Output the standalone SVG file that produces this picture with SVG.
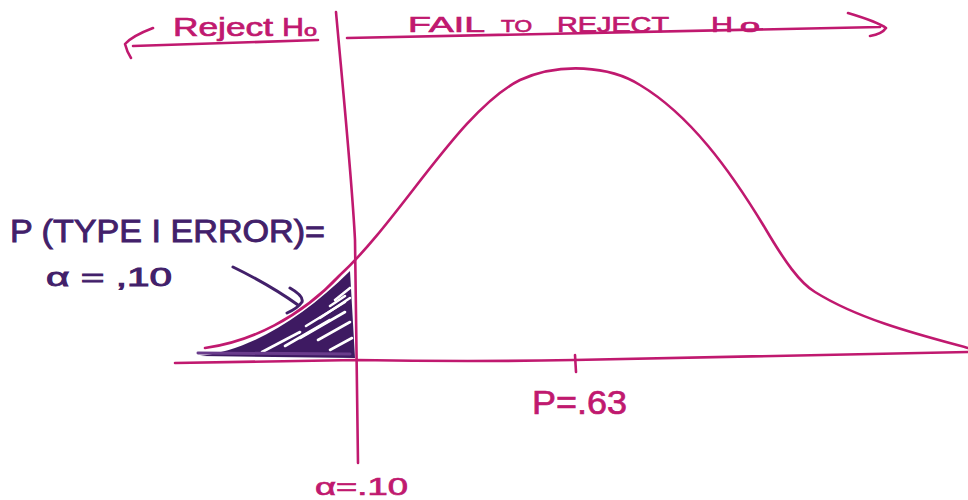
<svg xmlns="http://www.w3.org/2000/svg" width="968" height="500" viewBox="0 0 968 500">
  <defs>
    <style>
      .mag { fill: none; stroke: #c0196f; stroke-width: 2.6; stroke-linecap: round; stroke-linejoin: round; }
      .magt { fill: #c0196f; stroke: #c0196f; stroke-width: 0.7; font-family: "Liberation Sans", "DejaVu Sans", sans-serif; }
      .pur { fill: none; stroke: #42206a; stroke-width: 3; stroke-linecap: round; stroke-linejoin: round; }
      .purt { fill: #42206a; stroke: #42206a; stroke-width: 0.9; font-family: "Liberation Sans", "DejaVu Sans", sans-serif; }
      .hatch { stroke: #ffffff; stroke-width: 2.6; stroke-linecap: round; }
    </style>
    <clipPath id="shadeClip">
      <path d="M200,356 C250,350 300,320 350,271 L355,358 Z"/>
    </clipPath>
  </defs>
  <rect width="968" height="500" fill="#ffffff"/>

  <!-- shaded rejection area -->
  <g id="shaded-area">
    <path d="M200,356 C250,350 300,320 350,271 L355,358 Z" fill="#3e1a62"/>
    <g clip-path="url(#shadeClip)">
      <line class="hatch" x1="262" y1="352" x2="300" y2="332"/>
      <line class="hatch" x1="285" y1="346" x2="330" y2="320"/>
      <line class="hatch" x1="300" y1="338" x2="345" y2="312"/>
      <line class="hatch" x1="318" y1="340" x2="350" y2="322"/>
      <line class="hatch" x1="306" y1="326" x2="345" y2="302"/>
      <line class="hatch" x1="320" y1="318" x2="350" y2="298"/>
      <line class="hatch" x1="330" y1="350" x2="352" y2="338"/>
      <line class="hatch" x1="335" y1="300" x2="350" y2="288"/>
      <line class="hatch" x1="330" y1="306" x2="345" y2="296"/>
    </g>
    <path d="M198,353 L350,354" stroke="#6a3c8c" stroke-width="3" fill="none" stroke-linecap="round"/>
  </g>

  <!-- axes and curve -->
  <g id="connectors">
    <path id="curve" class="mag" d="M205,348 C250,342 300,318 340,275 C400,220 460,110 520,80 C560,62 610,66 640,85 C690,115 730,170 765,228 C785,262 800,283 815,292 C860,320 920,335 968,348"/>
    <path id="axis" class="mag" d="M175,363 L357,360 Q470,362 574,360 T968,352"/>
    <path id="tick" class="mag" stroke-width="3.2" d="M575,355 L576,372"/>
    <path id="critical-line" class="mag" d="M336,12 C343,90 352,180 355,240 L358,463"/>
    <path id="reject-arrow" class="mag" d="M318,40 L133,46 M153,28 Q132,36 125,44 Q127,52 131,58"/>
    <path id="fail-arrow" class="mag" d="M347,38 L880,27 M848,13 Q878,22 886,28 Q882,34 870,36"/>
    <path id="pointer" class="pur" d="M233,267 Q270,285 298,305 M290,288 Q304,296 302,302 Q298,308 287,313"/>
  </g>

  <g id="label-reject">
    <text class="magt" y="36" font-size="26"><tspan x="173" textLength="100" lengthAdjust="spacingAndGlyphs">Reject</tspan><tspan x="282" textLength="22" lengthAdjust="spacingAndGlyphs">H</tspan><tspan font-size="16" textLength="13" lengthAdjust="spacingAndGlyphs">o</tspan></text>
  </g>
  <g id="label-fail">
    <text class="magt" y="32" font-size="22"><tspan x="408" textLength="77" lengthAdjust="spacingAndGlyphs">FAIL</tspan><tspan x="501" font-size="17" textLength="31" lengthAdjust="spacingAndGlyphs">TO</tspan><tspan x="557" textLength="112" lengthAdjust="spacingAndGlyphs">REJECT</tspan><tspan x="711" textLength="22" lengthAdjust="spacingAndGlyphs">H</tspan><tspan x="740" font-size="18" textLength="20" lengthAdjust="spacingAndGlyphs">o</tspan></text>
  </g>
  <g id="label-type1">
    <text class="purt" x="10" y="242" font-size="32" textLength="315" lengthAdjust="spacingAndGlyphs">P (TYPE I ERROR)=</text>
    <text class="purt" x="46" y="286" font-size="26" textLength="126" lengthAdjust="spacingAndGlyphs">α = ,10</text>
  </g>
  <g id="label-p">
    <text class="magt" x="532" y="414" font-size="33" textLength="95" lengthAdjust="spacingAndGlyphs">P=.63</text>
  </g>
  <g id="label-alpha">
    <text class="magt" x="315" y="495" font-size="24" textLength="93" lengthAdjust="spacingAndGlyphs">α=.10</text>
  </g>
</svg>
